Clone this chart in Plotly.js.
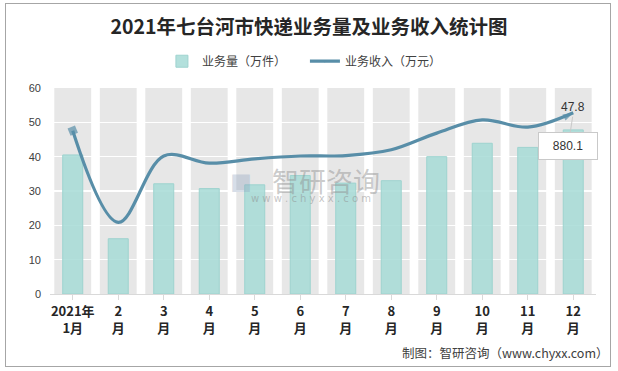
<!DOCTYPE html>
<html>
<head>
<meta charset="utf-8">
<script src="https://cdn.plot.ly/plotly-3.0.1.min.js"></script>
<style>
html,body{margin:0;padding:0;background:#fff;}
#wrap{position:relative;width:618px;height:371px;}
#chart{position:absolute;left:0;top:0;width:618px;height:371px;}
#frame{position:absolute;left:5px;top:3px;width:604px;height:362px;border:1px solid #a6a6a6;pointer-events:none;}
</style>
</head>
<body>
<div id="wrap"><div id="chart"></div><div id="frame"></div></div>
<script>
// ---- data ----
var months = ['2021年<br>1月','2<br>月','3<br>月','4<br>月','5<br>月','6<br>月','7<br>月','8<br>月','9<br>月','10<br>月','11<br>月','12<br>月'];
var volume = [40.5, 16.1, 32.1, 30.7, 31.8, 34.5, 32.3, 33.0, 40.0, 43.9, 42.7, 47.8];     // 业务量（万件）
var revenue = [793, 348, 670, 635, 656, 670, 672, 700, 781, 845, 810, 880.1];           // 业务收入（万元）
var yTicks = [0, 10, 20, 30, 40, 50, 60];

var CJK = '"Noto Sans CJK SC", "Noto Sans", sans-serif';
var lineColor = '#588ea8';

var xIdx = months.map(function(_, i){ return i; });

// gray category bands (background)
var shapes = xIdx.map(function(i){
  return {type:'rect', xref:'x', yref:'y', layer:'below',
          x0:i-0.405, x1:i+0.405, y0:yTicks[0], y1:yTicks[yTicks.length-1],
          fillcolor:'#e7e7e7', line:{width:0}};
});

var n = revenue.length;
var mSize = revenue.map(function(_, i){ return i===0 ? 8 : (i===n-1 ? 11 : 0); });
var mSym = revenue.map(function(_, i){ return i===0 ? 'square' : 'arrow'; });
var mAngle = revenue.map(function(_, i){ return i===0 ? -22 : 62; });

var traces = [
  {type:'bar', name:'业务量（万件）', x:xIdx, y:volume, width:0.44,
   marker:{color:'rgba(166,218,214,0.85)', line:{color:'#9ed3cf', width:1}},
   hoverinfo:'y'},
  {type:'scatter', mode:'lines+markers', name:'业务收入（万元）', x:xIdx, y:revenue, yaxis:'y2',
   line:{color:lineColor, width:3.2, shape:'spline', smoothing:1},
   marker:{symbol:mSym, size:mSize, angle:mAngle, angleref:'up', color:lineColor, line:{width:0}},
   hoverinfo:'y'}
];

var layout = {
  width:618, height:371,
  margin:{l:50, r:22, t:88, b:77},
  paper_bgcolor:'#ffffff', plot_bgcolor:'#ffffff',
  font:{family:CJK, color:'#404040'},
  title:{text:'<b>2021年七台河市快递业务量及业务收入统计图</b>',
         font:{family:CJK, size:19.5, color:'#262626'},
         x:0.5, xref:'container', xanchor:'center', y:0.927, yanchor:'middle'},
  showlegend:true,
  legend:{orientation:'h', x:0.205, xanchor:'left', y:1.13, yanchor:'middle',
          font:{family:CJK, size:12, color:'#404040'}, itemwidth:30,
          entrywidth:98, entrywidthmode:'pixels', bgcolor:'rgba(0,0,0,0)'},
  xaxis:{range:[-0.5, n-0.5], tickmode:'array', tickvals:xIdx, ticktext:months,
         showgrid:false, zeroline:false, showline:true, linecolor:'#d9d9d9', linewidth:1,
         ticks:'outside', tickson:'boundaries', ticklen:5, tickcolor:'#d9d9d9',
         tickfont:{family:CJK, size:13, color:'#262626', weight:'bold'}, fixedrange:true},
  yaxis:{range:[0, 60], tickmode:'array', tickvals:yTicks, showgrid:true, gridcolor:'#ffffff', gridwidth:1.3,
         zeroline:false, showline:false, ticks:'', ticklabelstandoff:8,
         tickfont:{family:'"Liberation Sans", Arial, sans-serif', size:11, color:'#404040'}, fixedrange:true},
  yaxis2:{range:[0, 1000], overlaying:'y', side:'right', visible:false, fixedrange:true},
  shapes:shapes,
  annotations:[
    {xref:'paper', yref:'paper', x:0.505, y:0.55, text:'智研咨询', showarrow:false,
     font:{family:CJK, size:27, color:'rgba(140,140,140,0.45)'}},
    {xref:'paper', yref:'paper', x:0.478, y:0.466, text:'w w w . c h y x x . c o m', showarrow:false,
     font:{family:'"DejaVu Sans", sans-serif', size:10, color:'rgba(140,140,140,0.5)'}},
    {xref:'paper', yref:'paper', x:0.35, y:0.55, text:'<b>■</b>', showarrow:false,
     font:{family:CJK, size:22, color:'rgba(140,160,190,0.35)'}},
    {x:n-1, y:volume[n-1], xref:'x', yref:'y', text:String(volume[n-1]), showarrow:false,
     yanchor:'bottom', yshift:14, font:{family:'"Liberation Sans", Arial, sans-serif', size:12, color:'#333333'}},
    {x:n-1, y:revenue[n-1], xref:'x', yref:'y2', text:String(revenue[n-1]), showarrow:true,
     ax:-5, ay:33, arrowhead:0, arrowwidth:1, arrowcolor:'#c9c9c9', standoff:4,
     bgcolor:'#ffffff', bordercolor:'#c9c9c9', borderwidth:1, borderpad:6, width:46,
     font:{family:'"Liberation Sans", Arial, sans-serif', size:12, color:'#333333'}},
    {xref:'paper', yref:'paper', x:1.028, xanchor:'right', y:-0.285, yanchor:'middle', showarrow:false,
     text:'制图：智研咨询（www.chyxx.com）', font:{family:CJK, size:12.5, color:'#404040'}}
  ]
};

Plotly.newPlot('chart', traces, layout, {displayModeBar:false, staticPlot:true});
</script>
</body>
</html>
